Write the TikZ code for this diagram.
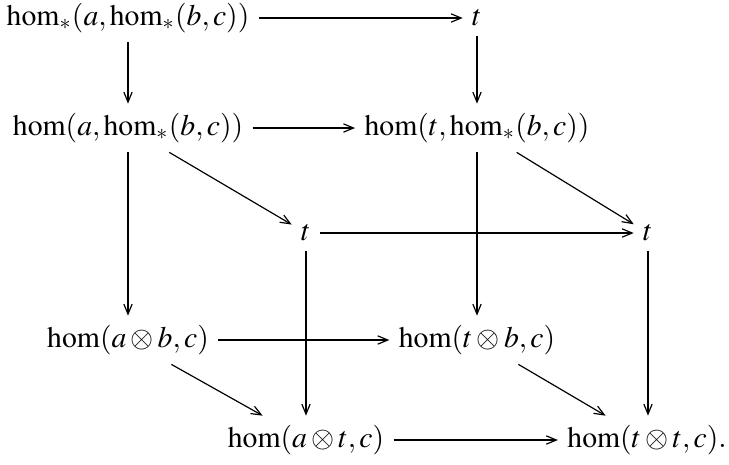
\documentclass[tikz,border=0pt]{standalone}
\usepackage{mathptmx}
\usetikzlibrary{arrows.meta}
\begin{document}
\begin{tikzpicture}[x=0.3367pt, y=-0.3367pt]
    \tikzset{obj/.style={inner sep=3pt, font=\normalsize}}
    \tikzset{map/.style={-{Straight Barb[length=3.4pt,width=2.8pt]}, line width=0.4pt}}
    \useasboundingbox (0,0) rectangle (729,464);
    % back face
    \node[obj] (homsa) at (128,18) {$\hom_*(a,\hom_*(b,c))$};
    \node[obj] (tback) at (477,18) {$t$};
    \node[obj] (homa) at (128,128) {$\hom(a,\hom_*(b,c))$};
    \node[obj] (homt) at (477,128) {$\hom(t,\hom_*(b,c))$};
    % middle
    \node[obj] (tleft) at (306,233) {$t$};
    \node[obj] (tright) at (648,233) {$t$};
    % front face
    \node[obj] (homab) at (128,340) {$\hom(a\otimes b,c)$};
    \node[obj] (homtb) at (477,340) {$\hom(t\otimes b,c)$};
    \node[obj] (homat) at (306,440) {$\hom(a\otimes t,c)$};
    \node[obj] (homtt) at (647,440) {$\hom(t\otimes t,c).$};
    % arrows
    \draw[map] (homsa) -- (tback);
    \draw[map] (homsa) -- (homa);
    \draw[map] (tback) -- (homt);
    \draw[map] (homa) -- (homt);
    \draw[map] (homa) -- (tleft);
    \draw[map] (homt) -- (tright);
    \draw[map] (tleft) -- (tright);
    \draw[map] (homa) -- (homab);
    \draw[map] (homt) -- (homtb);
    \draw[map] (homab) -- (homtb);
    \draw[map] (tleft) -- (homat);
    \draw[map] (tright) -- (homtt.north -| tright);
    \draw[map] (homab) -- (homat);
    \draw[map] (homtb) -- (homtt);
    \draw[map] (homat) -- (homtt);
\end{tikzpicture}
\end{document}
